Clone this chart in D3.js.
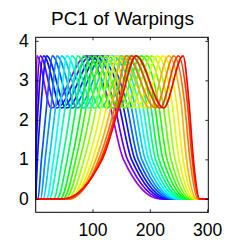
<!DOCTYPE html>
<html>
<head>
<meta charset="utf-8">
<script src="https://cdn.jsdelivr.net/npm/d3@7"></script>
<style>
  body { margin: 0; background: #fff; }
  text { font-family: "Liberation Sans", Arial, sans-serif; fill: #000; }
</style>
</head>
<body>
<svg id="chart" width="249" height="249"></svg>
<script>
//======
// Data
//======

// feature positions of each warped curve, purple (first) -> red (last)
var riseStart = [1, 1, 1, 1, 5, 9.5, 14, 20, 25, 32, 38, 44, 49, 53, 57, 61, 62, 61, 58, 54, 48];
var riseOne   = [1.1, 1.3, 1.6, 4, 11, 17.5, 24.5, 32, 39, 47.5, 56, 64, 71, 78, 85.5, 93, 100, 106, 111, 114.5, 117];
var riseTwo   = [1.8, 3, 6, 11, 21, 29, 37, 45, 54, 64, 73, 83, 91, 100, 109, 118, 127, 135, 142, 147, 150];
var peakOne   = [3, 9, 15, 20, 30, 38, 46, 55, 64, 74, 84, 94, 103, 112, 122, 131, 141, 150, 159, 168, 176];
var dipX      = [28, 37, 46, 55, 64, 74, 84, 94, 104, 114, 125, 136, 146, 157, 167, 178, 190, 201, 210, 218, 224];
var peakTwo   = [90, 97, 104, 111, 118, 126, 134, 142, 150, 159, 167, 176, 185, 194, 203, 213, 223, 233, 242, 250, 258];
var fallTwo   = [128, 136, 144, 151, 158, 165, 172, 179, 186, 193, 200, 207, 214, 222, 230, 238, 246, 254, 260, 265, 268];
var fallOne   = [154, 161, 168, 174, 180, 186, 192, 198, 204, 210, 216, 223, 230, 237, 244, 251, 258, 264, 270, 274, 276];
var fallEnd   = [218, 224, 229, 234, 239, 243, 247, 251, 255, 259, 263, 267, 270, 273, 276, 278, 280, 282, 284, 286, 287];

// value the curves take at each feature
var levels = [0, 0, 1, 2.5, 3.62, 2.3, 3.62, 2.5, 1, 0, 0];

var xDomain = [1, 302];
var yDomain = [-0.34, 4.09];
var xTicks = [100, 200, 300];
var yTicks = [0, 1, 2, 3, 4];
var title = "PC1 of Warpings";

//=======
// Chart
//=======

var width = 249,
  height = 249,
  plotLeft = 35.7,
  plotRight = 208.3,
  plotTop = 37.3,
  plotBottom = 212.3;

var svg = d3.select("#chart");

var x = d3.scaleLinear().domain(xDomain).range([plotLeft, plotRight]);
var y = d3.scaleLinear().domain(yDomain).range([plotBottom, plotTop]);

// build the point list of each curve, dropping repeated x positions
var curves = riseOne.map(function(d, i) {
  var xs = [xDomain[0], riseStart[i], riseOne[i], riseTwo[i], peakOne[i], dipX[i],
    peakTwo[i], fallTwo[i], fallOne[i], fallEnd[i], xDomain[1]];
  var pts = [];
  xs.forEach(function(v, j) {
    if (pts.length && v <= pts[pts.length - 1][0]) return;
    pts.push([v, levels[j]]);
  });
  return pts;
});

var n = curves.length;
function colour(i) {
  return d3.hsl(275 * (1 - i / (n - 1)), 1, 0.5).toString();
}

svg.append("defs").append("clipPath").attr("id", "plot")
  .append("rect")
  .attr("x", plotLeft).attr("y", plotTop)
  .attr("width", plotRight - plotLeft).attr("height", plotBottom - plotTop);

var line = d3.line()
  .x(function(d) { return x(d[0]); })
  .y(function(d) { return y(d[1]); })
  .curve(d3.curveMonotoneX);

svg.append("g")
  .attr("clip-path", "url(#plot)")
  .selectAll("path")
  .data(curves)
  .enter()
  .append("path")
  .attr("d", line)
  .attr("fill", "none")
  .attr("stroke", function(d, i) { return colour(i); })
  .attr("stroke-width", 1.7)
  .attr("stroke-linejoin", "round");

// axes, ticks pointing inwards like matlab
svg.append("g")
  .attr("transform", "translate(0," + plotBottom + ")")
  .call(d3.axisBottom(x).tickValues(xTicks).tickSizeInner(-3).tickSizeOuter(0).tickPadding(11));

svg.append("g")
  .attr("transform", "translate(" + plotLeft + ",0)")
  .call(d3.axisLeft(y).tickValues(yTicks).tickFormat(d3.format("d"))
    .tickSizeInner(-3).tickSizeOuter(0).tickPadding(7));

svg.append("g")
  .attr("transform", "translate(0," + plotTop + ")")
  .call(d3.axisTop(x).tickValues(xTicks).tickSizeInner(-3).tickSizeOuter(0).tickFormat(""));

svg.append("g")
  .attr("transform", "translate(" + plotRight + ",0)")
  .call(d3.axisRight(y).tickValues(yTicks).tickSizeInner(-3).tickSizeOuter(0).tickFormat(""));

svg.selectAll(".domain").remove();
svg.selectAll(".tick line").attr("stroke", "#000").attr("stroke-width", 0.8);
svg.selectAll(".tick text")
  .style("font-family", "'Liberation Sans', Arial, sans-serif")
  .style("font-size", "17.5px")
  .attr("fill", "#000");

svg.append("rect")
  .attr("x", plotLeft).attr("y", plotTop)
  .attr("width", plotRight - plotLeft).attr("height", plotBottom - plotTop)
  .attr("fill", "none")
  .attr("stroke", "#000")
  .attr("stroke-width", 1);

svg.append("text")
  .attr("x", 122.5)
  .attr("y", 25)
  .attr("text-anchor", "middle")
  .style("font-size", "19px")
  .text(title);
</script>
</body>
</html>
